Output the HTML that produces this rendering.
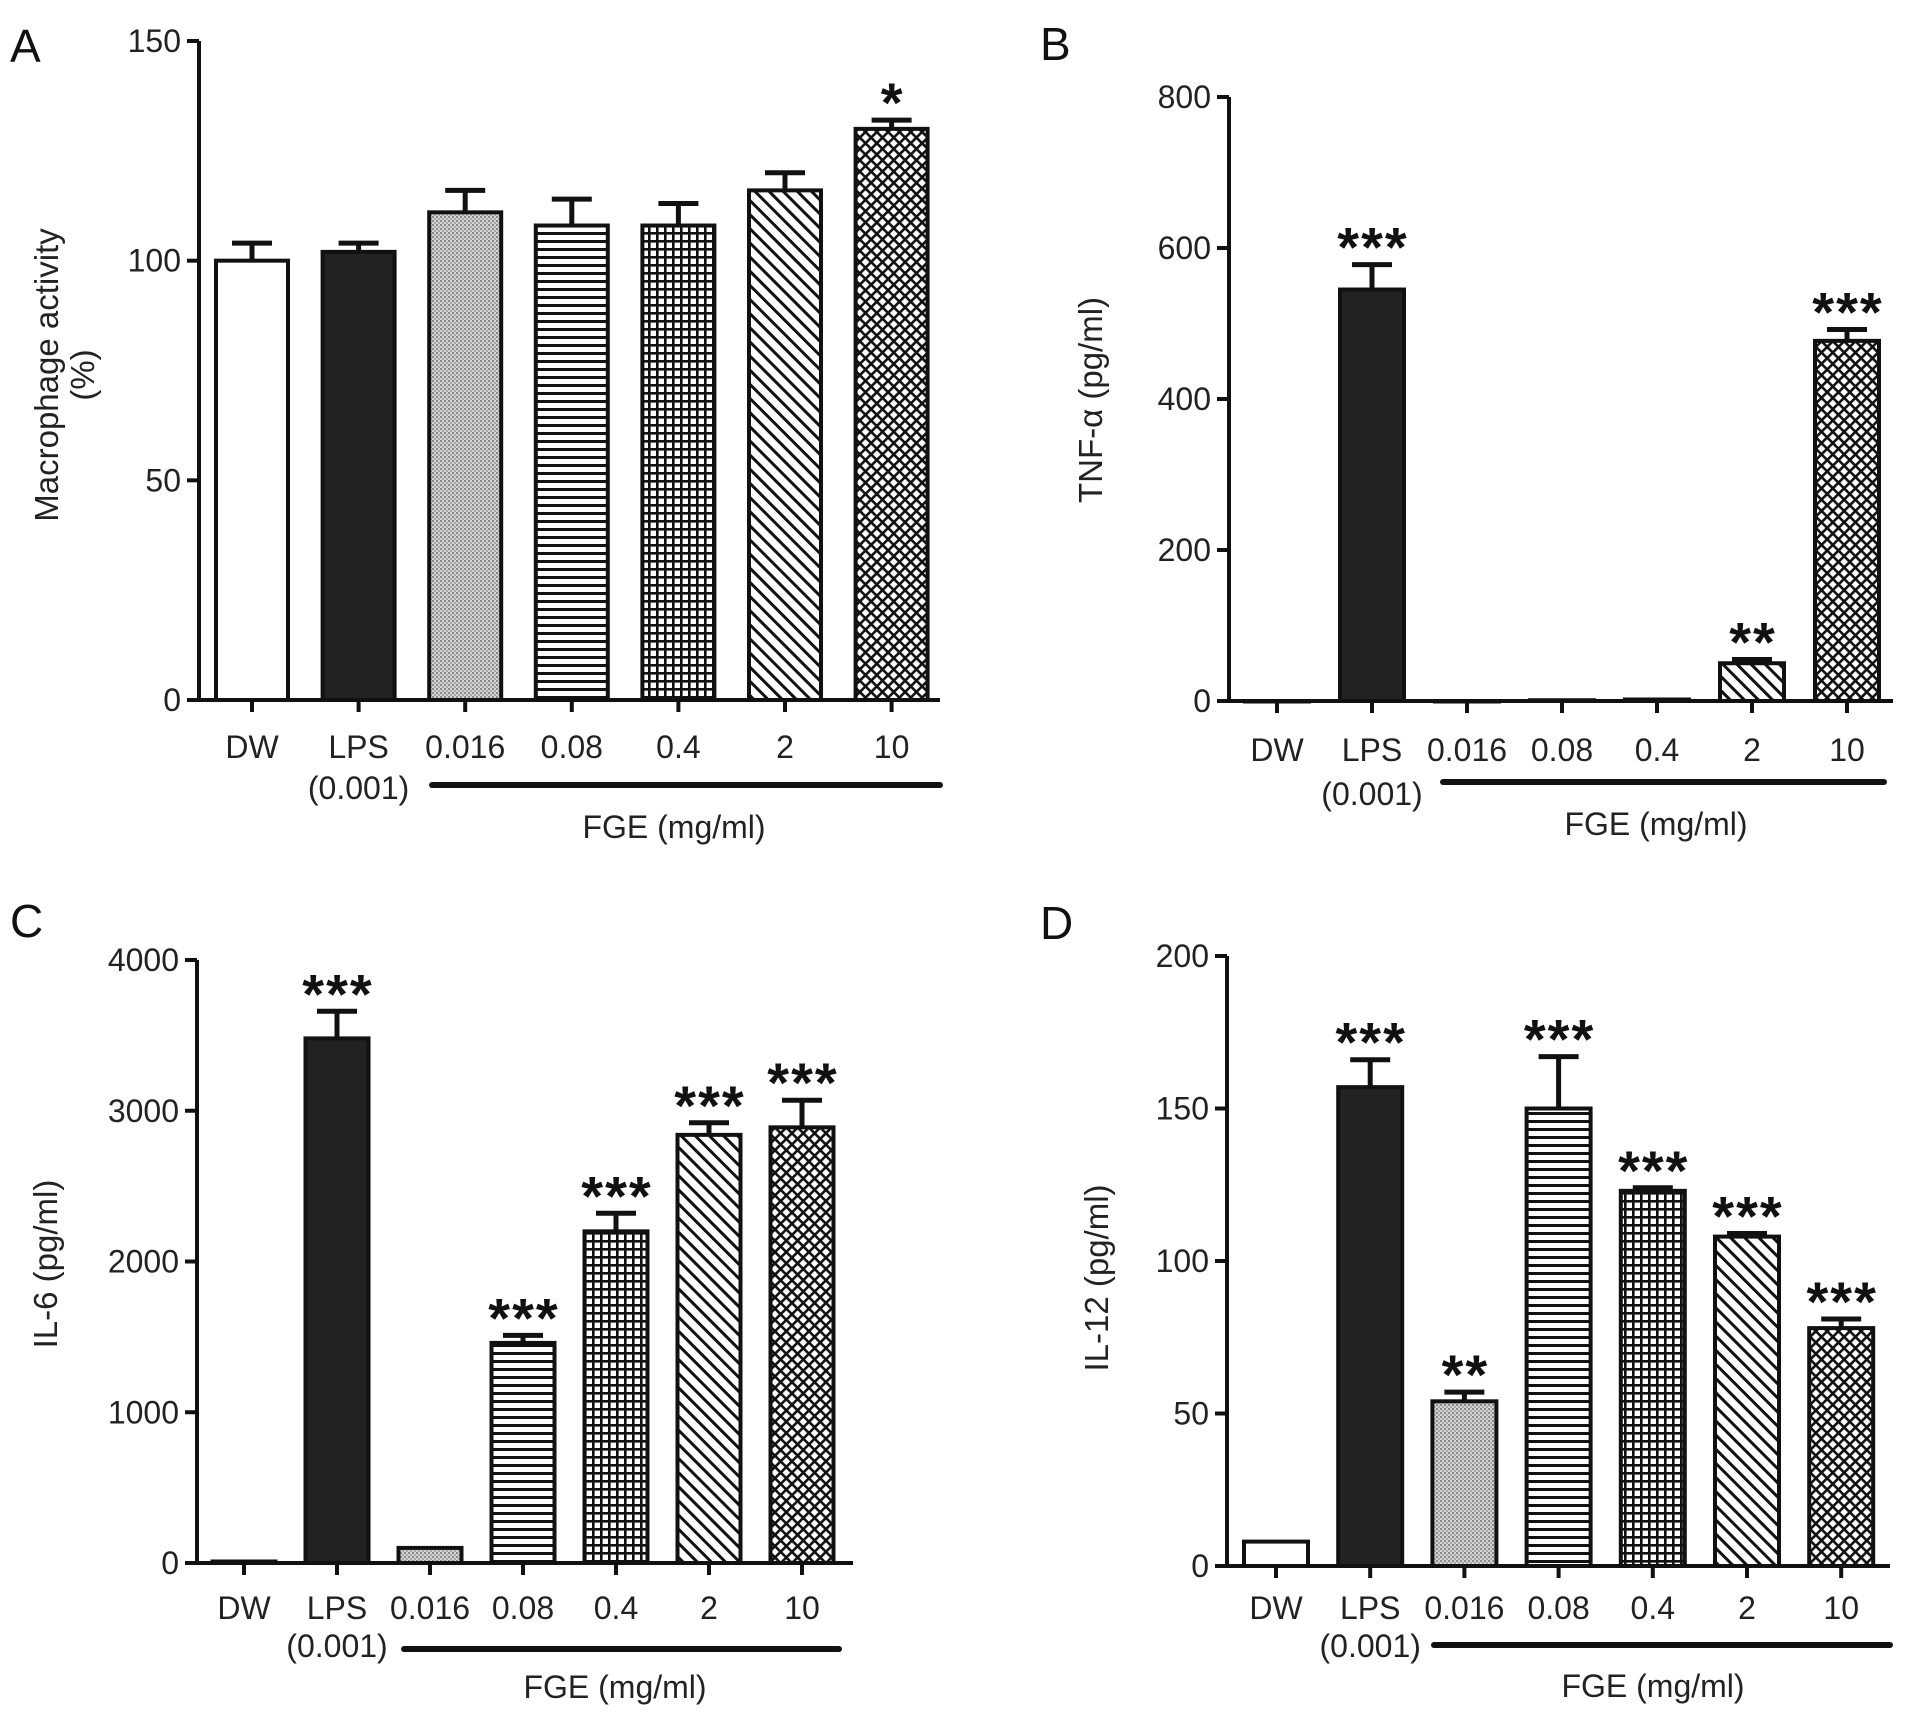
<!DOCTYPE html>
<html><head><meta charset="utf-8">
<style>
html,body{margin:0;padding:0;background:#fff;}
svg{display:block;font-family:"Liberation Sans",Arial,sans-serif;}
</style></head>
<body>
<svg id="fig" width="1913" height="1712" viewBox="0 0 1913 1712" xmlns="http://www.w3.org/2000/svg">
<defs>
 <pattern id="p-dots" width="4" height="4" patternUnits="userSpaceOnUse">
  <rect width="4" height="4" fill="#d4d4d4"/><rect width="2" height="2" fill="#8a8a8a"/><rect x="2" y="2" width="2" height="2" fill="#a8a8a8"/>
 </pattern>
 <pattern id="p-hlines" width="8" height="8" patternUnits="userSpaceOnUse">
  <rect width="8" height="8" fill="#fff"/><rect y="0" width="8" height="3" fill="#111"/>
 </pattern>
 <pattern id="p-grid" width="8" height="8" patternUnits="userSpaceOnUse">
  <rect width="8" height="8" fill="#fff"/><rect width="8" height="2.6" fill="#111"/><rect width="2.6" height="8" fill="#111"/>
 </pattern>
 <pattern id="p-diag" width="10" height="10" patternUnits="userSpaceOnUse" patternTransform="rotate(45)">
  <rect width="10" height="10" fill="#fff"/><rect width="10" height="3" fill="#111"/>
 </pattern>
 <pattern id="p-cross" width="8" height="8" patternUnits="userSpaceOnUse" patternTransform="rotate(45)">
  <rect width="8" height="8" fill="#111"/><rect x="2.6" y="2.6" width="5.4" height="5.4" fill="#fff"/>
 </pattern>
</defs>
</svg>
<script>
const categories = ["DW","LPS","0.016","0.08","0.4","2","10"];
const valuesA = [100,102,111,108,108,116,130];
const errorsA = [104,104,116,114,113,120,132];
const starsA  = ["","","","","","","*"];
const ticksA  = [0,50,100,150];
const valuesB = [0,545,0,1,2,50,477];
const errorsB = [0,578,0,1,3,55,492];
const starsB  = ["","***","","","","**","***"];
const ticksB  = [0,200,400,600,800];
const valuesC = [10,3480,100,1460,2200,2840,2890];
const errorsC = [10,3660,100,1510,2320,2920,3070];
const starsC  = ["","***","","***","***","***","***"];
const ticksC  = [0,1000,2000,3000,4000];
const valuesD = [8,157,54,150,123,108,78];
const errorsD = [8,166,57,167,124,109,81];
const starsD  = ["","***","**","***","***","***","***"];
const ticksD  = [0,50,100,150,200];

const fills = ["#fff","#222","url(#p-dots)","url(#p-hlines)","url(#p-grid)","url(#p-diag)","url(#p-cross)"];
const NS = "http://www.w3.org/2000/svg";
const svg = document.getElementById('fig');
function mk(tag, attrs, parent, text){
  const e = document.createElementNS(NS, tag);
  for (const k in attrs) e.setAttribute(k, attrs[k]);
  if (text !== undefined) e.textContent = text;
  (parent||svg).appendChild(e);
  return e;
}

function panel(cfg, vals, errs, stars, ticks){
  const g = mk('g', {});
  
  
  const ymax = ticks[ticks.length-1];
  const y = v => cfg.y0 - (v/ymax)*(cfg.y0 - cfg.yTop);
  const x = i => cfg.x0c + i*cfg.step;
  const L = mk('text', {x:cfg.lx, y:cfg.ly, 'font-size':46, fill:'#111'}, g, cfg.letter);
  
  
  vals.forEach((v,i)=>{
    const top = y(v);
    const r = mk('rect', {x:x(i)-cfg.bw/2, y:top, width:cfg.bw, height:Math.max(0.5,cfg.y0-top), fill:fills[i], stroke:'#111', 'stroke-width':4}, g);
    
    
    const et = y(errs[i]);
    if (cfg.y0 - top > 3 && top - et > 1){
      const eb = mk('path', {d:`M${x(i)} ${top}V${et}M${x(i)-20} ${et}H${x(i)+20}`, stroke:'#111', 'stroke-width':5, fill:'none'}, g);
      
      
    }
    if (stars[i]){
      const s = mk('text', {x:x(i)+1, y:et+2, 'font-size':56, 'font-weight':'bold', 'text-anchor':'middle', 'letter-spacing':2, fill:'#111'}, g, stars[i]);
      
      
    }
    mk('line', {x1:x(i), x2:x(i), y1:cfg.y0, y2:cfg.y0+12, stroke:'#111', 'stroke-width':4}, g);
    const t = mk('text', {x:x(i), y:cfg.labY, 'font-size':32, 'text-anchor':'middle', fill:'#222'}, g, categories[i]);
    
    
  });
  const sub = mk('text', {x:x(1), y:cfg.subY, 'font-size':32, 'text-anchor':'middle', fill:'#222'}, g, '(0.001)');
  
  
  const ax = mk('path', {d:`M${cfg.ax} ${cfg.yTop}V${cfg.y0}H${cfg.xEnd}`, stroke:'#111', 'stroke-width':4, fill:'none'}, g);
  
  
  ticks.forEach(t=>{
    mk('line', {x1:cfg.ax-12, x2:cfg.ax, y1:y(t), y2:y(t), stroke:'#111', 'stroke-width':4}, g);
    const tl = mk('text', {x:cfg.ax-18, y:y(t)+11, 'font-size':32, 'text-anchor':'end', fill:'#222'}, g, String(t));
    
    
  });
  const br = mk('line', {x1:cfg.bx1, x2:cfg.bx2, y1:cfg.bY, y2:cfg.bY, stroke:'#111', 'stroke-width':6, 'stroke-linecap':'round'}, g);
  
  
  const fg = mk('text', {x:cfg.fgx, y:cfg.fgY, 'font-size':32, 'text-anchor':'middle', fill:'#222'}, g, 'FGE (mg/ml)');
  
  
  const yt = mk('text', {transform:`translate(${cfg.ytx},${cfg.yty}) rotate(-90)`, 'font-size':33, 'text-anchor':'middle', fill:'#222'}, g);
  
  
  cfg.ytitle.forEach((line,k)=>{
    mk('tspan', {x:0, dy: k===0 ? 0 : 36}, yt, line);
  });
}

panel({letter:'A', lx:10, ly:62, ax:199, yTop:41, y0:700, xEnd:940, x0c:252, step:106.6, bw:72,
  labY:758, subY:799, bx1:432, bx2:940, bY:785, fgx:674, fgY:838, ytx:58, yty:375, ytitle:['Macrophage activity','(%)']},
  valuesA, errorsA, starsA, ticksA);
panel({letter:'B', lx:1040, ly:60, ax:1229, yTop:97, y0:701, xEnd:1893, x0c:1277, step:95, bw:64,
  labY:761, subY:805, bx1:1443, bx2:1884, bY:782, fgx:1656, fgY:835, ytx:1102, yty:400, ytitle:['TNF-α (pg/ml)']},
  valuesB, errorsB, starsB, ticksB);
panel({letter:'C', lx:10, ly:937, ax:197, yTop:960, y0:1563, xEnd:853, x0c:244, step:93, bw:63,
  labY:1619, subY:1657, bx1:404, bx2:839, bY:1649, fgx:615, fgY:1698, ytx:57, yty:1264, ytitle:['IL-6 (pg/ml)']},
  valuesC, errorsC, starsC, ticksC);
panel({letter:'D', lx:1040, ly:939, ax:1227, yTop:956, y0:1566, xEnd:1890, x0c:1276, step:94.2, bw:64,
  labY:1619, subY:1657, bx1:1434, bx2:1890, bY:1645, fgx:1653, fgY:1697, ytx:1108, yty:1278, ytitle:['IL-12 (pg/ml)']},
  valuesD, errorsD, starsD, ticksD);
</script>
</body></html>
